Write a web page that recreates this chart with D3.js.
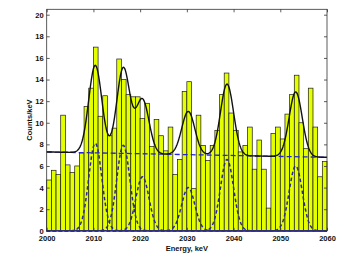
<!DOCTYPE html>
<html>
<head>
<meta charset="utf-8">
<script src="https://cdn.jsdelivr.net/npm/d3@7"></script>
<style>
  body { margin: 0; background: #fff; }
  text { font-family: Arial, "Liberation Sans", Helvetica, sans-serif; font-weight: bold; fill: #111; }
</style>
</head>
<body>
<div id="chart"></div>
<script>
// Histogram: lower edge of each 1 keV bin and counts/keV
var binStart = d3.range(2000, 2060);
var counts = [
  4.7, 5.6, 5.2, 10.7, 6.1, 5.4, 6.0, 7.2, 11.5, 13.2,
  17.0, 10.6, 12.5, 8.8, 9.5, 15.9, 14.0, 12.6, 12.4, 12.4,
  10.4, 11.8, 7.8, 10.3, 8.8, 7.4, 9.6, 5.2, 6.6, 12.9,
  13.8, 3.9, 10.7, 7.9, 6.5, 7.9, 9.3, 12.6, 14.6, 10.9,
  9.3, 7.3, 7.9, 9.6, 5.7, 8.4, 5.7, 2.1, 9.0, 9.6,
  8.5, 10.8, 12.6, 14.4, 10.0, 7.6, 13.2, 9.6, 5.0, 6.4
];

// Fitted peaks (centre keV, amplitude counts/keV, sigma keV)
var peakCentre = [2010.4, 2016.4, 2020.5, 2030.3, 2038.6, 2053.3];
var peakHeight = [8.1, 7.9, 5.0, 4.0, 6.6, 6.0];
var peakSigma = [1.4, 1.4, 1.4, 1.4, 1.4, 1.4];

// Linear background at the two ends of the range
var bgEnergy = [2000, 2060];
var bgLevel = [7.3, 6.8];

// Axis ticks
var xTicks = [2000, 2010, 2020, 2030, 2040, 2050, 2060];
var yTicks = [0, 2, 4, 6, 8, 10, 12, 14, 16, 18, 20];

var svgWidth = 346;
var svgHeight = 259;

var margin = { top: 9.3, right: 19, bottom: 28.2, left: 46.7 };
var chartWidth = svgWidth - margin.left - margin.right;
var chartHeight = svgHeight - margin.top - margin.bottom;

var svg = d3.select("#chart")
  .append("svg")
  .attr("width", svgWidth)
  .attr("height", svgHeight);

var chartGroup = svg.append("g")
  .attr("transform", `translate(${margin.left}, ${margin.top})`);

var xScale = d3.scaleLinear()
  .domain([2000, 2060])
  .range([0, chartWidth]);

var yScale = d3.scaleLinear()
  .domain([0, 20.5])
  .range([chartHeight, 0]);

var bgScale = d3.scaleLinear().domain(bgEnergy).range(bgLevel);

function gauss(e, i) {
  var d = (e - peakCentre[i]) / peakSigma[i];
  return peakHeight[i] * Math.exp(-0.5 * d * d);
}

// Energy grid on which the fit model is evaluated
var grid = d3.range(2000, 2060.001, 0.1);

// Bars
chartGroup.append("g")
  .selectAll("rect")
  .data(binStart)
  .join("rect")
  .attr("x", (d) => xScale(d))
  .attr("width", (d) => xScale(d + 1) - xScale(d))
  .attr("y", (d, i) => yScale(counts[i]))
  .attr("height", (d, i) => yScale(0) - yScale(counts[i]))
  .attr("fill", "#e4ff00")
  .attr("stroke", "#1a1a1a")
  .attr("stroke-width", 0.7);

var line = d3.line()
  .x((d) => xScale(d[0]))
  .y((d) => yScale(d[1]));

// Individual peak components (dashed)
peakCentre.forEach(function (c, i) {
  chartGroup.append("path")
    .datum(grid.map((e) => [e, gauss(e, i)]))
    .attr("d", line)
    .attr("fill", "none")
    .attr("stroke", "#2a2a9c")
    .attr("stroke-width", 1.5)
    .attr("stroke-dasharray", "3.5,2.5");
});

// Zero line
chartGroup.append("path")
  .datum([[2000, 0], [2060, 0]])
  .attr("d", line)
  .attr("fill", "none")
  .attr("stroke", "#2a2aff")
  .attr("stroke-width", 1.4);

// Background (dashed blue)
chartGroup.append("path")
  .datum(bgEnergy.map((e, i) => [e, bgLevel[i]]))
  .attr("d", line)
  .attr("fill", "none")
  .attr("stroke", "#2323e6")
  .attr("stroke-width", 1.3)
  .attr("stroke-dasharray", "5,3");

// Total fit (solid black)
chartGroup.append("path")
  .datum(grid.map(function (e) {
    var total = bgScale(e);
    peakCentre.forEach(function (c, i) { total += gauss(e, i); });
    return [e, total];
  }))
  .attr("d", line)
  .attr("fill", "none")
  .attr("stroke", "#111")
  .attr("stroke-width", 1.4);

// Axes box with inward ticks on all four sides
chartGroup.append("rect")
  .attr("width", chartWidth)
  .attr("height", chartHeight)
  .attr("fill", "none")
  .attr("stroke", "#333")
  .attr("stroke-width", 0.8);

var bottomAxis = d3.axisBottom(xScale).tickValues(xTicks).tickFormat(d3.format("d"))
  .tickSizeInner(-3).tickSizeOuter(0).tickPadding(5.2);
var topAxis = d3.axisTop(xScale).tickValues(xTicks).tickFormat("")
  .tickSizeInner(-3).tickSizeOuter(0);
var leftAxis = d3.axisLeft(yScale).tickValues(yTicks)
  .tickSizeInner(-3).tickSizeOuter(0).tickPadding(3);
var rightAxis = d3.axisRight(yScale).tickValues(yTicks).tickFormat("")
  .tickSizeInner(-3).tickSizeOuter(0);

var gb = chartGroup.append("g").attr("transform", `translate(0, ${chartHeight})`).call(bottomAxis);
var gt = chartGroup.append("g").call(topAxis);
var gl = chartGroup.append("g").call(leftAxis);
var gr = chartGroup.append("g").attr("transform", `translate(${chartWidth}, 0)`).call(rightAxis);

[gb, gt, gl, gr].forEach(function (g) {
  g.select(".domain").remove();
  g.selectAll(".tick line").attr("stroke", "#333").attr("stroke-width", 0.8);
  g.selectAll("text").attr("font-family", null).attr("fill", null);
});
gb.selectAll("text").attr("font-size", "7.5px");
gl.selectAll("text").attr("font-size", "7.6px");

// Axis titles
chartGroup.append("text")
  .attr("x", chartWidth / 2)
  .attr("y", chartHeight + 19.8)
  .attr("text-anchor", "middle")
  .attr("font-size", "7.5px")
  .text("Energy, keV");

chartGroup.append("text")
  .attr("transform", "rotate(-90)")
  .attr("x", 0 - chartHeight / 2)
  .attr("y", 0 - 15)
  .attr("text-anchor", "middle")
  .attr("font-size", "7.5px")
  .text("Counts/keV");
</script>
</body>
</html>
